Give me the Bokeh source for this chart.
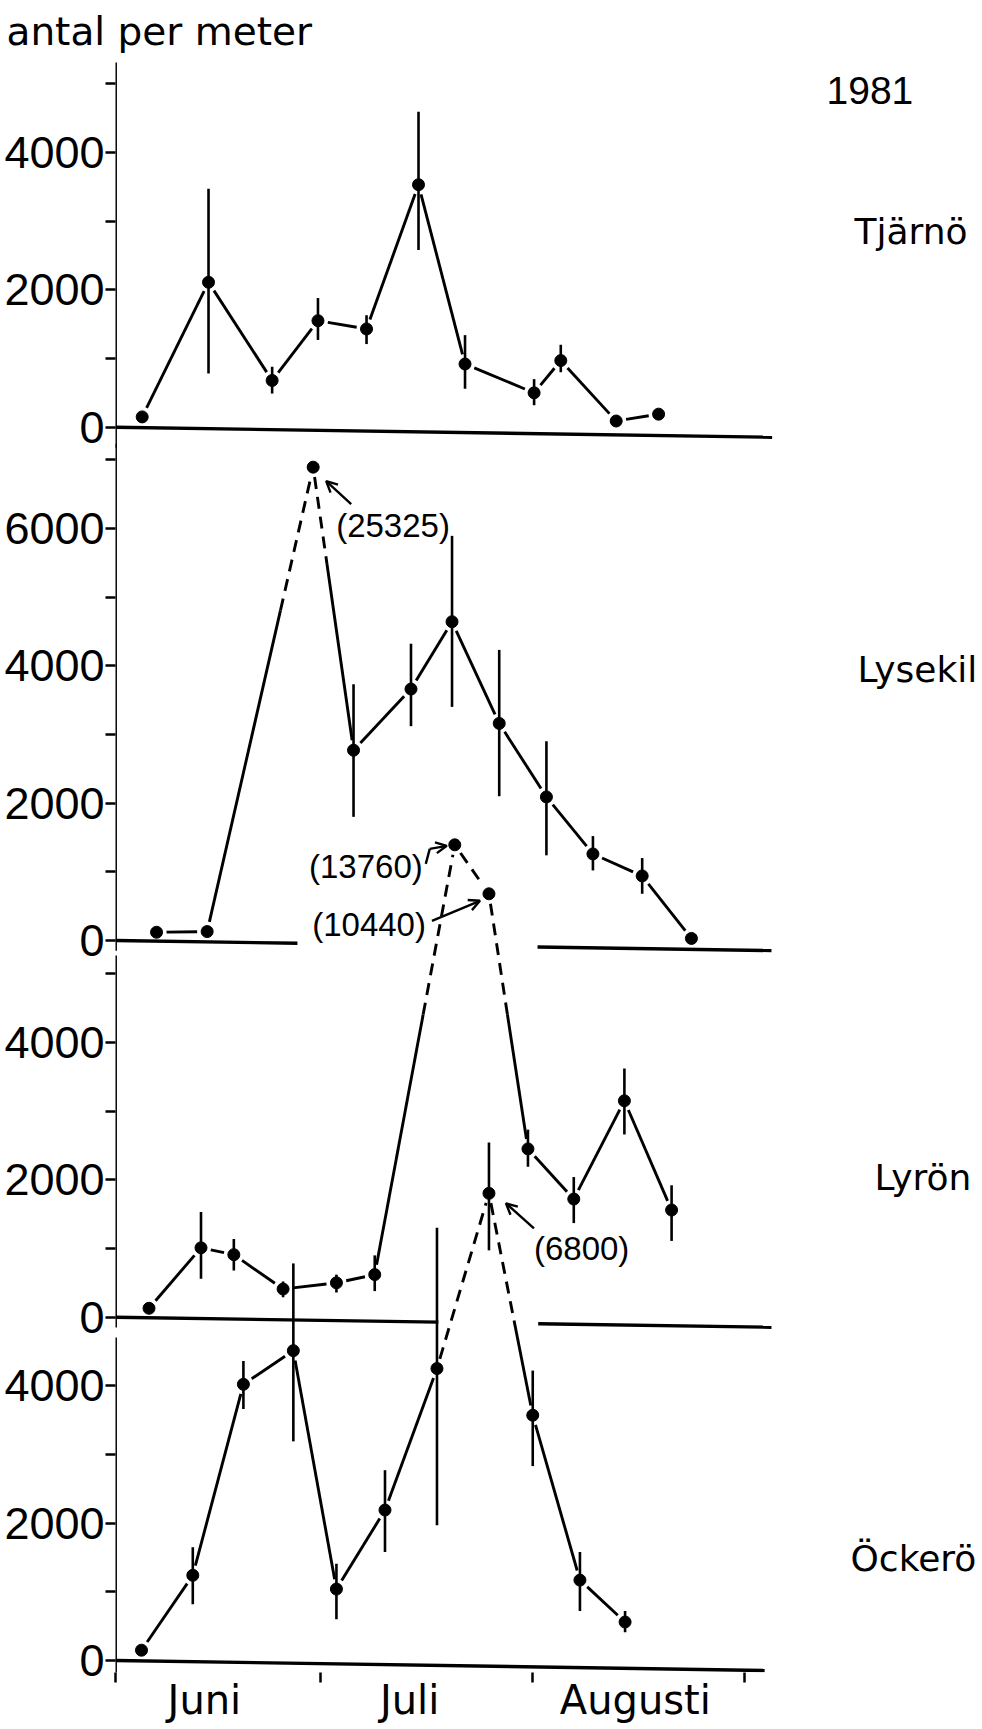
import math
from bokeh.plotting import figure
from bokeh.models import Range1d, FixedTicker, Arrow, OpenHead
from bokeh.core.properties import value
from bokeh.embed import file_html
from bokeh.resources import INLINE

NaN = float("nan")

# ---------------- data ----------------
y_title = "antal per meter"
year_label = "1981"
month_names = ["Juni", "Juli", "Augusti"]
month_start_day = [0, 30, 61, 92]      # days after 1 June: 1 Jun, 1 Jul, 1 Aug, 1 Sep
month_label_day = [13, 43, 76]

station_names = ["Tjärnö", "Lysekil", "Lyrön", "Öckerö"]

tjarno_day = [3.9, 13.6, 22.9, 29.6, 36.7, 44.3, 51.1, 61.2, 65.1, 73.2, 79.4]
tjarno_mean = [150, 2110, 680, 1550, 1430, 3530, 920, 500, 970, 90, 190]
tjarno_low = [NaN, 780, 490, 1270, 1210, 2580, 560, 320, 800, NaN, NaN]
tjarno_high = [NaN, 3470, 880, 1880, 1630, 4590, 1340, 700, 1200, NaN, NaN]

lysekil_day = [6.0, 13.4, 28.9, 34.8, 43.2, 49.2, 56.1, 63.0, 69.8, 77.0, 84.2]
lysekil_mean = [120, 130, 25325, 2770, 3660, 4640, 3160, 2090, 1260, 940, 30]
lysekil_low = [NaN, NaN, NaN, 1800, 3120, 3400, 2100, 1240, 1020, 680, NaN]
lysekil_high = [NaN, NaN, NaN, 3730, 4320, 5890, 4230, 2900, 1520, 1200, NaN]

lyron_day = [4.9, 12.5, 17.3, 24.5, 32.3, 37.9, 49.6, 54.6, 60.3, 67.0, 74.4, 81.3]
lyron_mean = [130, 1010, 910, 410, 500, 620, 13760, 10440, 2450, 1720, 3150, 1560]
lyron_low = [NaN, 560, 680, 290, 360, 380, NaN, NaN, 2190, 1370, 2660, 1110]
lyron_high = [NaN, 1530, 1140, 520, 620, 900, NaN, NaN, 2730, 2040, 3620, 1920]

ockero_day = [3.8, 11.3, 18.7, 26.0, 32.3, 39.4, 47.0, 54.6, 61.0, 67.9, 74.5]
ockero_mean = [150, 1240, 4020, 4510, 1040, 2190, 4250, 6800, 3570, 1170, 560]
ockero_low = [NaN, 820, 3660, 3190, 600, 1580, 1970, 5970, 2830, 720, 410]
ockero_high = [NaN, 1650, 4360, 5780, 1410, 2770, 6300, 7540, 4220, 1580, 720]

# values written out in brackets next to their points
annotated_points = {"Lysekil": [2], "Lyrön": [6, 7], "Öckerö": [7]}

y_major = {"Tjärnö": [0, 2000, 4000], "Lysekil": [0, 2000, 4000, 6000],
           "Lyrön": [0, 2000, 4000], "Öckerö": [0, 2000, 4000]}
y_minor = {"Tjärnö": [1000, 3000, 5000], "Lysekil": [1000, 3000, 5000, 7000],
           "Lyrön": [1000, 3000, 5000], "Öckerö": [1000, 3000]}

series = {
    "Tjärnö": (tjarno_day, tjarno_mean, tjarno_low, tjarno_high),
    "Lysekil": (lysekil_day, lysekil_mean, lysekil_low, lysekil_high),
    "Lyrön": (lyron_day, lyron_mean, lyron_low, lyron_high),
    "Öckerö": (ockero_day, ockero_mean, ockero_low, ockero_high),
}

# ---------------- layout / style ----------------
PXD = 6.84                 # px per day
PXU = 0.0687               # px per unit of "antal per meter"
X_DAY0 = 115               # page x of 1 June (y axis)
Y_ZERO_LAST = 1660         # page y of the Öckerö zero line
Y_BOTTOM = 1672            # frame bottom
FRAME_TOP = 62
FRAME_RIGHT = 982
PANEL_ZERO_PX = {"Tjärnö": 426.7, "Lysekil": 940.0, "Lyrön": 1316.7, "Öckerö": 1660.0}
OFFSET = {k: (Y_ZERO_LAST - v) / PXU for k, v in PANEL_ZERO_PX.items()}
# off-scale points are drawn at the top of their panel (broken scale)
DRAWN_AT = {("Lysekil", 2): 6890, ("Lyrön", 6): 6876, ("Lyrön", 7): 6163}
# dashed share of the segment i -> i+1, measured from the annotated end
DASH_FRAC = {"Lysekil": {1: 0.30, 2: 0.33}, "Lyrön": {5: 0.39, 6: 1.0, 7: 0.47},
             "Öckerö": {6: 1.0, 7: 0.58}}
AXIS_SPAN = {"Tjärnö": (-300, 5400), "Lysekil": (-150, 7230), "Lyrön": (-150, 5265), "Öckerö": (-200, 4700)}
BASELINES = {"Tjärnö": [(0, 96)], "Lysekil": [(0, 26.6), (61.7, 95.9)],
             "Lyrön": [(0, 47.2), (61.8, 95.9)], "Öckerö": [(0, 94.9)]}
TILT = 0.105               # px drop per day of the scanned base lines
GAP = 10                   # px gap between a line end and a point
LABEL_PAGE = {"1981": (826, 90), "Tjärnö": (854, 231), "Lysekil": (857, 669),
              "Lyrön": (874, 1177), "Öckerö": (850, 1558)}
ANNOT = {
    ("Lysekil", 2): dict(text=(23, 58), align="left", path=[(38, 37), (13, 14)]),
    ("Lyrön", 6): dict(text=(-32, 22), align="right", path=[(-29, 19), (-25, 4), (-8, 1)]),
    ("Lyrön", 7): dict(text=(-63, 31), align="right", path=[(-57, 27), (-9, 7)]),
    ("Öckerö", 7): dict(text=(45, 55), align="left", path=[(45, 35), (17, 10)]),
}
LW = 2.9
FONT_WORD = "DejaVu Sans"
FONT_NUM = "Liberation Sans"


def to_page(day, yc):
    return X_DAY0 + day * PXD, Y_ZERO_LAST - yc * PXU


def from_page(X, Y):
    return (X - X_DAY0) / PXD, (Y_ZERO_LAST - Y) / PXU


x_end = (FRAME_RIGHT - X_DAY0) / PXD
y_start = (Y_ZERO_LAST - Y_BOTTOM) / PXU
y_end = (Y_ZERO_LAST - FRAME_TOP) / PXU

p = figure(frame_width=FRAME_RIGHT - X_DAY0, frame_height=Y_BOTTOM - FRAME_TOP,
           x_range=Range1d(0, x_end), y_range=Range1d(y_start, y_end),
           min_border_left=X_DAY0, min_border_right=0, min_border_top=FRAME_TOP,
           min_border_bottom=0, output_backend="svg", toolbar_location=None)
p.outline_line_color = None
p.xgrid.visible = False
p.ygrid.visible = False
p.background_fill_color = "white"
p.border_fill_color = "white"

p.title.text = y_title
p.title.align = "left"
p.title.vertical_align = "top"
p.title.offset = -X_DAY0 + 6
p.title.text_font = FONT_WORD
p.title.text_font_size = "39px"
p.title.text_font_style = "normal"
p.title.text_color = "black"
p.title.standoff = 14

# y axis: one stacked scale with each panel's own labels
ticks, minors, overrides = [], [], {}
for s in station_names:
    for v in y_major[s]:
        t = round(OFFSET[s] + v, 3)
        ticks.append(t)
        overrides[t] = str(v)
    for v in y_minor[s]:
        minors.append(round(OFFSET[s] + v, 3))
ya = p.yaxis[0]
ya.ticker = FixedTicker(ticks=ticks, minor_ticks=minors)
ya.major_label_overrides = overrides
ya.axis_line_color = None
ya.major_tick_in = 0
ya.major_tick_out = 10
ya.minor_tick_in = 0
ya.minor_tick_out = 10
ya.major_tick_line_width = 2.5
ya.minor_tick_line_width = 2.5
ya.major_tick_line_color = "black"
ya.minor_tick_line_color = "black"
ya.major_label_text_font = FONT_NUM
ya.major_label_text_font_size = "45px"
ya.major_label_text_color = "black"
ya.major_label_standoff = 1

xa = p.xaxis[0]
xa.ticker = FixedTicker(ticks=month_label_day, minor_ticks=month_start_day)
xa.major_label_overrides = {d: n for d, n in zip(month_label_day, month_names)}
xa.axis_line_color = None
xa.major_tick_in = 0
xa.major_tick_out = 0
xa.minor_tick_in = 0
xa.minor_tick_out = 10
xa.minor_tick_line_width = 2.5
xa.minor_tick_line_color = "black"
xa.major_label_text_font = FONT_WORD
xa.major_label_text_font_size = "40px"
xa.major_label_text_color = "black"
xa.major_label_standoff = -6

# panel axis lines and zero lines
for s in station_names:
    lo, hi = AXIS_SPAN[s]
    p.segment(x0=[0], y0=[OFFSET[s] + lo], x1=[0], y1=[OFFSET[s] + hi], line_width=LW, line_color="black")
    for a, b in BASELINES[s]:
        p.segment(x0=[a], y0=[OFFSET[s] - a * TILT / PXU], x1=[b], y1=[OFFSET[s] - b * TILT / PXU],
                  line_width=3.4, line_color="black")

for s in station_names:
    days, mean, low, high = series[s]
    off = OFFSET[s]
    yplot = [DRAWN_AT.get((s, i), m) for i, m in enumerate(mean)]
    marked = annotated_points.get(s, [])

    solid = ([], [], [], [])
    dashed = ([], [], [], [])

    def add(group, A, B):
        d0, y0 = from_page(*A)
        d1, y1 = from_page(*B)
        group[0].append(d0); group[1].append(y0); group[2].append(d1); group[3].append(y1)

    for i in range(len(days) - 1):
        X0, Y0 = to_page(days[i], off + yplot[i])
        X1, Y1 = to_page(days[i + 1], off + yplot[i + 1])
        L = math.hypot(X1 - X0, Y1 - Y0)
        ux, uy = (X1 - X0) / L, (Y1 - Y0) / L
        A = (X0 + ux * GAP, Y0 + uy * GAP)
        B = (X1 - ux * GAP, Y1 - uy * GAP)
        f = DASH_FRAC.get(s, {}).get(i)
        if f is None:
            add(solid, A, B)
        elif f >= 1:
            add(dashed, A, B)
        elif (i + 1) in marked:
            Mp = (B[0] - (B[0] - A[0]) * f, B[1] - (B[1] - A[1]) * f)
            add(solid, A, Mp); add(dashed, Mp, B)
        else:
            Mp = (A[0] + (B[0] - A[0]) * f, A[1] + (B[1] - A[1]) * f)
            add(dashed, A, Mp); add(solid, Mp, B)

    p.segment(x0=solid[0], y0=solid[1], x1=solid[2], y1=solid[3], line_width=LW, line_color="black")
    if dashed[0]:
        p.segment(x0=dashed[0], y0=dashed[1], x1=dashed[2], y1=dashed[3], line_width=LW,
                  line_color="black", line_dash="12 8")

    ed = [d for d, l in zip(days, low) if l == l]
    el = [off + l for l in low if l == l]
    eh = [off + h for h in high if h == h]
    p.segment(x0=ed, y0=el, x1=ed, y1=eh, line_width=2.6, line_color="black")

    p.scatter(x=days, y=[off + v for v in yplot], size=12, marker="circle",
              fill_color="black", line_color="black")

    for i in marked:
        cfg = ANNOT[(s, i)]
        PX, PY = to_page(days[i], off + yplot[i])
        tx, ty = from_page(PX + cfg["text"][0], PY + cfg["text"][1])
        p.text(x=[tx], y=[ty], text=[f"({mean[i]})"], text_font=value(FONT_NUM),
               text_font_size="33px", text_align=cfg["align"], text_baseline="middle",
               text_color="black")
        pts = [from_page(PX + dx, PY + dy) for dx, dy in cfg["path"]]
        if len(pts) > 2:
            p.line(x=[q[0] for q in pts[:-1]], y=[q[1] for q in pts[:-1]], line_width=2.4, line_color="black")
        (sx, sy), (ex, ey) = pts[-2], pts[-1]
        p.add_layout(Arrow(x_start=sx, y_start=sy, x_end=ex, y_end=ey, line_width=2.4,
                           line_color="black",
                           end=OpenHead(size=11, line_width=2.4, line_color="black")))

# right-hand labels
lab_text = [year_label] + station_names
lab_x, lab_y = [], []
for t in lab_text:
    d, y = from_page(*LABEL_PAGE[t])
    lab_x.append(d); lab_y.append(y)
p.text(x=lab_x[:1], y=lab_y[:1], text=lab_text[:1], text_font=value(FONT_NUM), text_font_size="39px",
       text_align="left", text_baseline="alphabetic", text_color="black")
p.text(x=lab_x[1:], y=lab_y[1:], text=lab_text[1:], text_font=value(FONT_WORD), text_font_size="36px",
       text_align="left", text_baseline="alphabetic", text_color="black")

open("out.html", "w").write(file_html(p, INLINE))
